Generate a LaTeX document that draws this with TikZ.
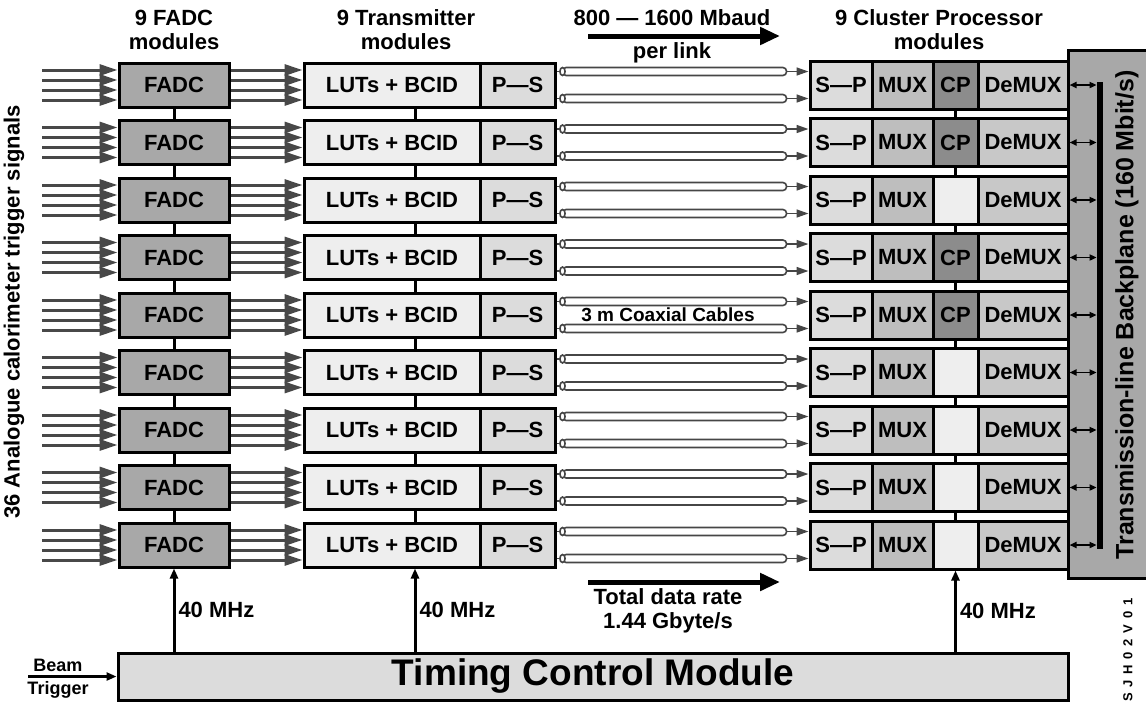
\documentclass[tikz,border=0pt]{standalone}
\usepackage{fontspec}
\setmainfont{Liberation Sans}
\usepackage{xcolor}
\definecolor{sigdark}{RGB}{72,72,72}
\definecolor{coaxgray}{RGB}{70,70,70}
\definecolor{fadcgray}{RGB}{168,168,168}
\definecolor{lutgray}{RGB}{238,238,238}
\definecolor{psgray}{RGB}{220,220,220}
\definecolor{muxgray}{RGB}{190,190,190}
\definecolor{cpgray}{RGB}{140,140,140}
\definecolor{demuxgray}{RGB}{200,200,200}
\definecolor{planegray}{RGB}{168,168,168}
\usepackage{tikz}
\usetikzlibrary{arrows.meta, calc}

\tikzset{
  modbox/.style={draw=black, line width=1.5pt, inner sep=0pt, minimum height=22pt, font=\fontsize{11}{12}\selectfont\bfseries},
  cpbox/.style={modbox, minimum height=24pt},
  title/.style={align=center, inner sep=0pt, font=\fontsize{11}{12}\selectfont\bfseries},
  sigarrow/.style={draw=sigdark, line width=1.5pt, -{Triangle[length=9pt,width=5.5pt]}},
  coax/.style={draw=coaxgray, line width=0.8pt, fill=white, rounded corners=1.8pt},
  coaxend/.style={draw=coaxgray, line width=0.8pt},
  coaxarrow/.style={draw=coaxgray, line width=0.8pt, -{Triangle[length=6pt,width=4pt]}},
  ratearrow/.style={draw=black, line width=2.5pt, -{Triangle[length=10pt,width=8.5pt]}},
  clkarrow/.style={draw=black, line width=1.5pt, -{Triangle[length=5pt,width=4pt]}},
  clklabel/.style={right, inner sep=1.5pt, font=\fontsize{11}{12}\selectfont\bfseries},
  link/.style={draw=black, line width=1.5pt},
  busarrow/.style={draw=black, line width=0.9pt, {Triangle[length=3.5pt,width=3pt]}-{Triangle[length=3.5pt,width=3pt]}},
  smalltext/.style={inner sep=0pt, font=\fontsize{9}{10}\selectfont\bfseries}
}

\begin{document}
\begin{tikzpicture}[x=0.5pt, y=-0.5pt]
  \useasboundingbox (0,0) rectangle (1146,708);

  % column titles
  \node[title] (tfadc) at (174,30) {9 FADC\\modules};
  \node[title] (ttx)   at (406,30) {9 Transmitter\\modules};
  \node[title] (tcpm)  at (939,30) {9 Cluster Processor\\modules};
  \node[title] (tbaud) at (672,18) {800 — 1600 Mbaud};
  \node[title] (tlink) at (672,53) {per link};
  \coordinate (baudl) at (588,36);
  \coordinate (baudr) at (780,36);
  \draw[ratearrow] (baudl) -- (baudr);

  % backplane
  \node[draw=black, line width=1.5pt, fill=planegray, minimum width=46pt, minimum height=264pt] (bp) at (1114,314) {};
  \node[rotate=90, inner sep=0pt, font=\fontsize{12.5}{13}\selectfont\bfseries] (bplabel) at (1127,315) {Transmission-line Backplane (160 Mbit/s)};
  \node[fill=black, inner sep=0pt, minimum width=3pt, minimum height=233.5pt] (bar) at (1100,315.5) {};

  % module rows
  \foreach \i/\cpfill/\cptext in {1/cpgray/CP, 2/cpgray/CP, 3/lutgray/, 4/cpgray/CP, 5/cpgray/CP, 6/lutgray/, 7/lutgray/, 8/lutgray/, 9/lutgray/} {
    \pgfmathsetmacro{\cy}{85+57.5*(\i-1)}
    \coordinate (sig\i) at (42,\cy);
    \node[modbox, fill=fadcgray, minimum width=55pt] (fadc\i) at (174,\cy) {FADC};
    \node[modbox, fill=lutgray, minimum width=88pt] (lut\i) at (392,\cy) {LUTs + BCID};
    \node[modbox, fill=psgray, minimum width=37.5pt] (ps\i) at (517.5,\cy) {P—S};
    \node[cpbox, fill=psgray, minimum width=31pt] (sp\i) at (841,\cy) {S—P};
    \node[cpbox, fill=muxgray, minimum width=30.5pt] (mux\i) at (902.5,\cy) {MUX};
    \node[cpbox, fill=\cpfill, minimum width=22.5pt] (cp\i) at (955.5,\cy) {\cptext};
    \node[cpbox, fill=demuxgray, minimum width=45pt] (demux\i) at (1023,\cy) {DeMUX};
    \foreach \d in {-15,-5,5,15} {
      \draw[sigarrow] ($(sig\i)+(0,\d)$) -- ($(fadc\i.west)+(0,\d)$);
      \draw[sigarrow] ($(fadc\i.east)+(0,\d)$) -- ($(lut\i.west)+(0,\d)$);
    }
    \foreach \d in {-13.5,13.5} {
      \draw[coaxend] ($(ps\i.east)+(0,\d)$) -- ($(ps\i.east)+(5,\d)$);
      \draw[coax] ($(ps\i.east)+(6,\d-4)$) rectangle ($(sp\i.west)+(-22,\d+4)$);
      \draw[coax] ($(ps\i.east)+(6,\d)$) ellipse [x radius=1.3pt, y radius=2pt];
      \draw[coaxarrow] ($(sp\i.west)+(-22,\d)$) -- ($(sp\i.west)+(0,\d)$);
    }
    \draw[busarrow] (demux\i.east) -- (demux\i.east -| bar.west);
  }

  % vertical links between modules
  \coordinate (txclk) at (415,0);
  \foreach \i [count=\j from 2] in {1,...,8} {
    \draw[link] (fadc\i.south) -- (fadc\j.north);
    \draw[link] (lut\i.south -| txclk) -- (lut\j.north -| txclk);
    \draw[link] (cp\i.south) -- (cp\j.north);
  }

  \node[title] (coaxtxt) at (668,315) {\fontsize{9.5}{10}\selectfont 3 m Coaxial Cables};

  % total rate
  \coordinate (totl) at (588,582);
  \coordinate (totr) at (780,582);
  \draw[ratearrow] (totl) -- (totr);
  \node[title] (totlabel) at (668,611) {Total data rate\\1.44 Gbyte/s};

  % timing
  \node[modbox, fill=psgray, minimum width=475pt, minimum height=23.5pt, font=\fontsize{18.5}{20}\selectfont\bfseries] (tcm) at (593,676.5) {Timing Control Module};
  \draw[clkarrow] (fadc9.south |- tcm.north) -- node[clklabel] {40 MHz} (fadc9.south);
  \draw[clkarrow] (txclk |- tcm.north) -- node[clklabel] {40 MHz} (txclk |- lut9.south);
  \draw[clkarrow] (cp9.south |- tcm.north) -- node[clklabel] {40 MHz} (cp9.south);

  \node[smalltext] (beam) at (58,665) {Beam};
  \node[smalltext] (trig) at (58,690) {Trigger};
  \coordinate (trigin) at (28,676.5);
  \draw[clkarrow, line width=1.2pt] (trigin) -- (tcm.west);

  \node[title, rotate=90] (siglabel) at (14,312) {36 Analogue calorimeter trigger signals};
  \node[rotate=90, inner sep=0pt, font=\fontsize{6.5}{7}\selectfont\bfseries] (drawno) at (1128,650) {S\, J\, H\, 0\, 2\, V\, 0\, 1};
\end{tikzpicture}
\end{document}
